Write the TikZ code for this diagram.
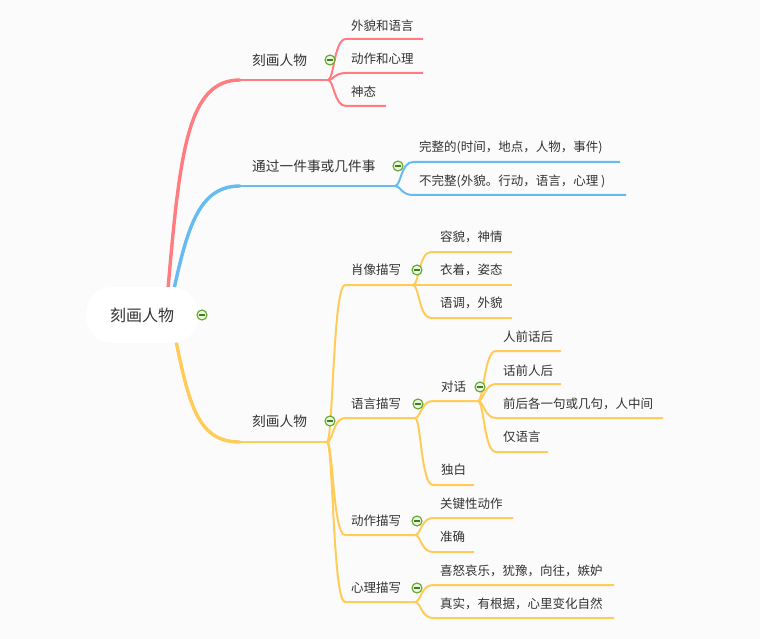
\documentclass[tikz,border=0pt]{standalone}
\usepackage{fontspec}
\newfontfamily\cjk{Noto Sans CJK SC}
\definecolor{bg}{HTML}{FBFBFB}
\definecolor{cred}{HTML}{FF7C80}
\definecolor{cblue}{HTML}{66BBF0}
\definecolor{cyel}{HTML}{FFCC5A}
\definecolor{txt}{HTML}{333333}
\definecolor{icg}{HTML}{5EA52C}
\definecolor{icf}{HTML}{EAF6DE}
\tikzset{
 lvone/.style={font=\cjk\fontsize{13.7}{16}\selectfont, text=txt, anchor=west, inner sep=0pt},
 lvtwo/.style={font=\cjk\fontsize{12.5}{15}\selectfont, text=txt, anchor=west, inner sep=0pt},
 rootbox/.style={fill=white, rounded corners=26pt, minimum width=112pt, minimum height=56pt, inner sep=0pt, font=\cjk\fontsize{16}{19}\selectfont, text=txt},
 icon/.style={circle, draw=icg, fill=icf, line width=1.1pt, minimum size=10pt, inner sep=0pt,
   path picture={\draw[icg!75!black, line width=1.2pt] ([xshift=-2.6pt]path picture bounding box.center) -- ([xshift=2.6pt]path picture bounding box.center);}},
 trunk/.style={line width=3.4pt, line cap=round},
 stem/.style={line width=2.4pt},
 twig/.style={line width=2pt},
}
\begin{document}
\begin{tikzpicture}[x=1pt,y=-1pt]
\fill[bg] (0,0) rectangle (760,639);
\useasboundingbox (0,0) rectangle (760,639);

% main anchors
\coordinate (rA) at (168,289);
\coordinate (rB) at (174,289);
\coordinate (rC) at (176,341);
\coordinate (aS) at (240,80);  \coordinate (aJ) at (328,80);
\coordinate (bS) at (240,186); \coordinate (bJ) at (395,186);
\coordinate (cS) at (240,442); \coordinate (cJ) at (327,442);

% trunks
\draw[cred,trunk] (rA) .. controls (180,150) and (188,80) .. (aS);
\draw[cred,stem] (aS) -- (aJ);
\draw[cblue,trunk] (rB) .. controls (188,225) and (200,186) .. (bS);
\draw[cblue,stem] (bS) -- (bJ);
\draw[cyel,trunk] (rC) .. controls (190,410) and (200,442) .. (cS);
\draw[cyel,stem] (cS) -- (cJ);

% red children
\foreach \n/\y/\e in {a1/39/423, a2/73/423, a3/106/386} {
  \coordinate (\n K) at (346,\y); \coordinate (\n E) at (\e,\y);
  \draw[cred,twig] (aJ) .. controls +(6,0) and +(-12,0) .. (\n K) -- (\n E);
}
% blue children
\foreach \n/\y/\e in {b1/162/620, b2/195/626} {
  \coordinate (\n K) at (413,\y); \coordinate (\n E) at (\e,\y);
  \draw[cblue,twig] (bJ) .. controls +(6,0) and +(-12,0) .. (\n K) -- (\n E);
}
% yellow level 2
\foreach \n/\y/\e in {c1/285/413, c2/418/415, c3/535/415, c4/602/415} {
  \coordinate (\n K) at (345,\y); \coordinate (\n E) at (\e,\y);
  \draw[cyel,twig] (cJ) .. controls +(6,0) and +(-12,0) .. (\n K) -- (\n E);
}
% yellow level 3
\foreach \p/\n/\y/\e in {c1/c11/252/512, c1/c12/285/512, c1/c13/318/512,
                        c2/c21/401/478, c2/c22/485/474,
                        c3/c31/518/513, c3/c32/552/474,
                        c4/c41/585/614, c4/c42/618/614} {
  \path (\p E) ++(18,0) coordinate (tmp);
  \coordinate (\n K) at (tmp |- 0,\y); \coordinate (\n E) at (\e,\y);
  \draw[cyel,twig] (\p E) .. controls +(6,0) and +(-12,0) .. (\n K) -- (\n E);
}
% yellow level 4
\foreach \n/\y/\e in {c211/351/561, c212/384/561, c213/418/663, c214/452/548} {
  \coordinate (\n K) at (496,\y); \coordinate (\n E) at (\e,\y);
  \draw[cyel,twig] (c21E) .. controls +(6,0) and +(-12,0) .. (\n K) -- (\n E);
}

% root
\node[rootbox] (root) at (142,315) {刻画人物};

% labels
\node[lvone] (a) at (252,60) {刻画人物};
\node[lvtwo] (a1) at (351,26) {外貌和语言};
\node[lvtwo] (a2) at (351,59) {动作和心理};
\node[lvtwo] (a3) at (351,92) {神态};

\node[lvone] (b) at (252,166) {通过一件事或几件事};
\node[lvtwo] (b1) at (419,147) {完整的(时间，地点，人物，事件)};
\node[lvtwo] (b2) at (419,181) {不完整(外貌。行动，语言，心理 )};

\node[lvone] (c) at (252,421) {刻画人物};
\node[lvtwo] (c1) at (351,270) {肖像描写};
\node[lvtwo] (c11) at (440,237) {容貌，神情};
\node[lvtwo] (c12) at (440,270) {衣着，姿态};
\node[lvtwo] (c13) at (440,303) {语调，外貌};
\node[lvtwo] (c2) at (351,404) {语言描写};
\node[lvtwo] (c21) at (441,387) {对话};
\node[lvtwo] (c211) at (503,337) {人前话后};
\node[lvtwo] (c212) at (503,371) {话前人后};
\node[lvtwo] (c213) at (503,404) {前后各一句或几句，人中间};
\node[lvtwo] (c214) at (503,437) {仅语言};
\node[lvtwo] (c22) at (441,470) {独白};
\node[lvtwo] (c3) at (351,521) {动作描写};
\node[lvtwo] (c31) at (440,504) {关键性动作};
\node[lvtwo] (c32) at (440,537) {准确};
\node[lvtwo] (c4) at (351,588) {心理描写};
\node[lvtwo] (c41) at (440,571) {喜怒哀乐，犹豫，向往，嫉妒};
\node[lvtwo] (c42) at (440,604) {真实，有根据，心里变化自然};

% collapse icons
\node[icon] (iroot) at (202,315) {};
\node[icon] (ia) at (330,60) {};
\node[icon] (ib) at (398,166) {};
\node[icon] (ic) at (330,421) {};
\node[icon] (ic1) at (417,270) {};
\node[icon] (ic2) at (418,404) {};
\node[icon] (ic21) at (480,387) {};
\node[icon] (ic3) at (417,521) {};
\node[icon] (ic4) at (417,588) {};
\end{tikzpicture}
\end{document}
